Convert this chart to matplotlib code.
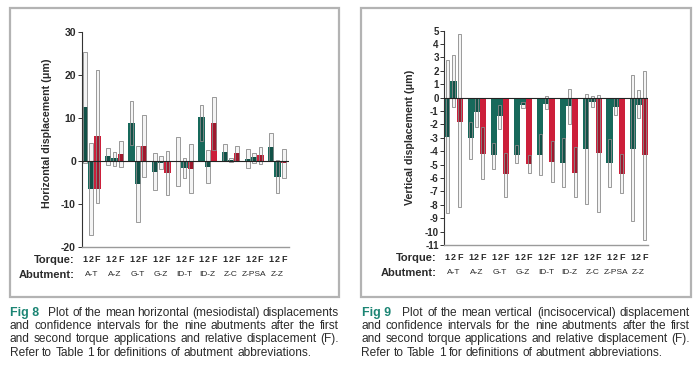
import matplotlib
matplotlib.use('Agg')
import matplotlib.pyplot as plt
from matplotlib.patches import Rectangle
from matplotlib.transforms import blended_transform_factory

# ---------------- data ----------------
abutments = ['A-T', 'A-Z', 'G-T', 'G-Z', 'ID-T', 'ID-Z', 'Z-C', 'Z-PSA', 'Z-Z']
torque_labels = ['1', '2', 'F']

# Fig 8 - horizontal displacement (um)
h_mean1 = [12.5, 1.2, 8.8, -2.5, -0.1, 10.2, 2.0, 0.5, 3.3]
h_lo1 = [-0.4, -0.9, 3.7, -6.7, -5.7, 4.7, 0.0, -1.7, 0.0]
h_hi1 = [25.4, 3.1, 13.9, 1.8, 5.5, 13.0, 3.9, 2.8, 6.4]
h_mean2 = [-6.6, 0.6, -5.3, -0.5, -1.7, -1.3, 0.2, 0.9, -3.8]
h_lo2 = [-17.2, -1.2, -14.3, -1.9, -3.9, -5.0, -0.2, -0.5, -7.4]
h_hi2 = [4.1, 2.1, 3.6, 1.2, 0.6, 2.6, 0.6, 1.9, 0.2]
h_meanF = [5.9, 1.6, 3.6, -2.9, -1.9, 8.8, 1.9, 1.3, -0.5]
h_baseF = [-6.6, 0, 0, 0, 0, 0, 0, 0, 0]
h_loF = [-9.7, -1.5, -3.8, -7.9, -7.4, 2.6, 0.0, -0.7, -4.0]
h_hiF = [21.2, 4.7, 10.7, 2.3, 3.9, 14.8, 3.6, 3.3, 2.9]
h_ticks = [-20, -10, 0, 10, 20, 30]

# Fig 9 - vertical displacement (um)
v_mean1 = [-2.9, -3.0, -4.3, -4.3, -4.3, -4.9, -3.8, -4.9, -3.8]
v_lo1 = [-8.6, -4.6, -5.3, -4.9, -5.8, -6.7, -7.95, -6.7, -9.2]
v_hi1 = [2.8, -1.8, -3.4, -3.55, -2.7, -3.0, 0.27, -3.1, 1.7]
v_mean2 = [1.25, -1.1, -1.4, -0.55, -0.5, -0.65, -0.35, -0.7, -0.55]
v_lo2 = [-0.7, -2.2, -2.35, -0.8, -0.85, -2.0, -0.7, -1.3, -1.55]
v_hi2 = [3.2, 0.0, -0.55, -0.35, 0.1, 0.65, 0.15, 0.0, 0.57]
v_meanF = [-1.8, -4.2, -5.7, -4.95, -4.8, -5.6, -4.1, -5.7, -4.3]
v_baseF = [0, 0, 0, 0, 0, 0, 0, 0, 0]
v_loF = [-8.2, -6.1, -7.4, -5.6, -6.3, -7.4, -8.55, -7.1, -10.6]
v_hiF = [4.75, -2.2, -4.1, -4.3, -3.2, -3.7, 0.2, -4.2, 2.0]
v_ticks = list(range(-11, 6))

caption8 = ["Plot of the mean horizontal (mesiodistal) displacements",
            "and confidence intervals for the nine abutments after the first",
            "and second torque applications and relative displacement (F).",
            "Refer to Table 1 for definitions of abutment abbreviations."]
caption9 = ["Plot of the mean vertical (incisocervical) displacement",
            "and confidence intervals for the nine abutments after the first",
            "and second torque applications and relative displacement (F).",
            "Refer to Table 1 for definitions of abutment abbreviations."]

# ---------------- style ----------------
TEAL = '#17695b'
RED = '#cc1f3a'
FIGTEAL = '#1c8574'
TXT = '#2b2b2b'
W, H = 700, 366
plt.rcParams['font.family'] = ['Liberation Sans', 'DejaVu Sans']

fig = plt.figure(figsize=(W / 100, H / 100), dpi=100)
fig.patch.set_facecolor('white')


def fx(px):
    return px / W


def fy(py):
    return 1 - py / H


def draw_chart(ax, series, ylim, ticks, tick_fs, bw, ciw, xlim, ylabel):
    ax.set_xlim(*xlim)
    ax.set_ylim(*ylim)
    for k, (mean, base, lo, hi, col) in enumerate(series):
        for i in range(len(abutments)):
            xc = i + (k - 1) * bw
            ax.add_patch(Rectangle((xc - ciw / 2, lo[i]), ciw, hi[i] - lo[i],
                                   facecolor='#f4f4f4', edgecolor='none', zorder=1))
            b0, b1 = min(base[i], mean[i]), max(base[i], mean[i])
            ax.add_patch(Rectangle((xc - bw / 2, b0), bw, b1 - b0,
                                   facecolor=col, edgecolor='none', zorder=2))
            o0, o1 = max(b0, lo[i]), min(b1, hi[i])
            if o1 > o0:
                ax.add_patch(Rectangle((xc - ciw / 2, o0), ciw, o1 - o0,
                                       facecolor='black', alpha=0.22,
                                       edgecolor='none', zorder=3))
            ax.add_patch(Rectangle((xc - ciw / 2, lo[i]), ciw, hi[i] - lo[i],
                                   facecolor='none', edgecolor='#8a8a8a',
                                   linewidth=0.6, zorder=4))
    ax.axhline(0, color='#222222', linewidth=0.8, zorder=5)
    for s in ['top', 'right']:
        ax.spines[s].set_visible(False)
    ax.spines['left'].set_color('#333333')
    ax.spines['left'].set_linewidth(0.8)
    ax.spines['bottom'].set_color('#9a9a9a')
    ax.spines['bottom'].set_linewidth(1.0)
    ax.set_xticks([])
    ax.set_yticks(ticks)
    ax.set_yticklabels([str(t) for t in ticks], fontsize=tick_fs,
                       fontweight='bold', color=TXT)
    ax.tick_params(axis='y', direction='out', length=3, width=0.7,
                   color='#333333', pad=1)
    ax.set_ylabel(ylabel, fontsize=7.7, fontweight='bold', color=TXT)
    ax.patch.set_alpha(0)


def bottom_labels(ax, bw, y_torque, y_abut, x_head):
    tr = blended_transform_factory(ax.transData, fig.transFigure)
    for i, name in enumerate(abutments):
        for k, t in enumerate(torque_labels):
            ax.text(i + (k - 1) * bw, fy(y_torque), t, transform=tr,
                    ha='center', va='center', fontsize=6.5,
                    fontweight='bold', color=TXT)
        ax.text(i, fy(y_abut), name, transform=tr, ha='center', va='center',
                fontsize=6.0, color=TXT)
    fig.text(fx(x_head), fy(y_torque), 'Torque:', ha='right', va='center',
             fontsize=8, fontweight='bold', color=TXT)
    fig.text(fx(x_head), fy(y_abut), 'Abutment:', ha='right', va='center',
             fontsize=8, fontweight='bold', color=TXT)


# ---- left chart (Fig 8)
bwL = 0.27
axL = fig.add_axes([fx(81.5), fy(247), fx(289 - 81.5), (247 - 32) / H])
draw_chart(axL,
           [(h_mean1, [0] * 9, h_lo1, h_hi1, TEAL),
            (h_mean2, [0] * 9, h_lo2, h_hi2, TEAL),
            (h_meanF, h_baseF, h_loF, h_hiF, RED)],
           (-20, 30), h_ticks, 7.5, bwL, 0.16, (-0.42, 8.49),
           'Horizontal displacement (\u03bcm)')
axL.yaxis.set_label_coords(fx(52), fy(133), transform=fig.transFigure)
bottom_labels(axL, bwL, 260, 275, 75)

# ---- right chart (Fig 9)
bwR = 0.265
axR = fig.add_axes([fx(444.3), fy(245), fx(648 - 444.3), (245 - 30.7) / H])
draw_chart(axR,
           [(v_mean1, [0] * 9, v_lo1, v_hi1, TEAL),
            (v_mean2, [0] * 9, v_lo2, v_hi2, TEAL),
            (v_meanF, v_baseF, v_loF, v_hiF, RED)],
           (-11, 5), v_ticks, 7.0, bwR, 0.13, (-0.4, 8.4),
           'Vertical displacement (\u03bcm)')
axR.yaxis.set_label_coords(fx(414.5), fy(137), transform=fig.transFigure)
bottom_labels(axR, bwR, 257.7, 272.7, 436.7)

# ---- panel frames
for x0, x1 in [(10, 339), (361, 690.5)]:
    fig.patches.append(Rectangle((fx(x0), fy(297)), fx(x1 - x0), (297 - 8) / H,
                                 transform=fig.transFigure, facecolor='none',
                                 edgecolor='#b3b3b3', linewidth=1.6))

# ---- captions (justified)
renderer = fig.canvas.get_renderer()


def natural_width(s, fs):
    t = fig.text(0, 0, s, fontsize=fs)
    w = t.get_window_extent(renderer).width
    t.remove()
    return w


def caption(lines, fig_label, x0, x1, ys):
    ref = lines[1]
    fs = 8.0 * (x1 - x0) / natural_width(ref, 8.0) * 0.985
    space_nat = natural_width('a a', fs) - natural_width('aa', fs)
    for li, (line, y) in enumerate(zip(lines, ys)):
        words = line.split(' ')
        items = []
        if li == 0:
            items.append(fig.text(0, fy(y), fig_label, fontsize=fs + 0.3,
                                  fontweight='bold', color=FIGTEAL, va='center'))
        for w in words:
            items.append(fig.text(0, fy(y), w, fontsize=fs, color=TXT,
                                  va='center'))
        widths = [t.get_window_extent(renderer).width for t in items]
        gaps = [1.0] * (len(items) - 1)
        if li == 0:
            gaps[0] = 3.0
        if li < len(lines) - 1:
            space = (x1 - x0 - sum(widths)) / sum(gaps)
        else:
            space = space_nat
        x = x0
        for j, t in enumerate(items):
            t.set_x(fx(x))
            x += widths[j]
            if j < len(gaps):
                x += space * gaps[j]


caption(caption8, 'Fig 8', 10, 339, [312.7, 326, 339.3, 352.5])
caption(caption9, 'Fig 9', 361.5, 690, [312.7, 326, 339.3, 352.5])

fig.savefig('out.png', dpi=100, facecolor='white')
